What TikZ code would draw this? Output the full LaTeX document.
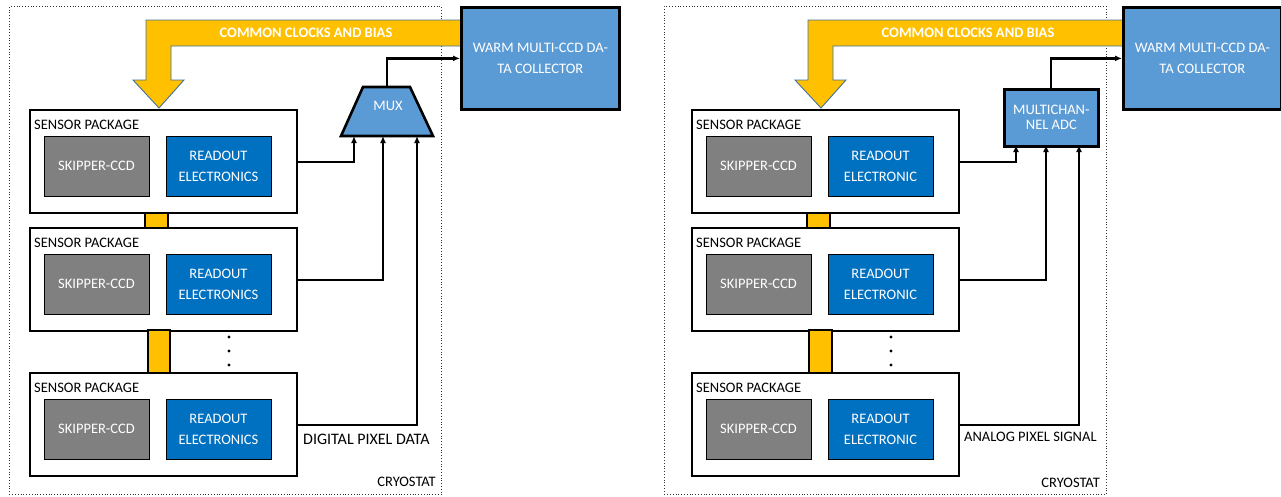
\documentclass[tikz,border=0pt]{standalone}
\usepackage{fontspec}
\setmainfont{Carlito}
\usetikzlibrary{arrows.meta}

\definecolor{busyellow}{HTML}{FFC000}
\definecolor{busedge}{HTML}{41719C}
\definecolor{warmblue}{HTML}{5B9BD5}
\definecolor{roblue}{HTML}{0070C0}
\definecolor{ccdgray}{HTML}{808080}

\tikzset{
  cryo/.style={draw=black!80, dotted, line width=0.8pt, anchor=north west, inner sep=0pt},
  pkg/.style={draw, line width=2.4pt, fill=white, anchor=north west, inner sep=0pt,
              minimum width=267pt, minimum height=103pt},
  pkglabel/.style={anchor=base west, inner sep=0pt, font=\fontsize{14.5}{17}\selectfont},
  ccd/.style={draw, line width=1pt, fill=ccdgray, text=white, inner sep=0pt,
              minimum width=105pt, minimum height=60pt, font=\fontsize{14.5}{17}\selectfont},
  ro/.style={ccd, fill=roblue, align=center, font=\fontsize{14.5}{21}\selectfont},
  warm/.style={draw, line width=2.8pt, fill=warmblue, text=white, align=center,
               inner sep=0pt, anchor=north west, font=\fontsize{14.5}{21}\selectfont},
  bus/.style={draw=busedge, line width=0.9pt, fill=busyellow},
  buslabel/.style={text=white, inner sep=0pt, font=\fontsize{14.5}{17}\selectfont\bfseries},
  link/.style={draw, line width=2.2pt, fill=busyellow, anchor=north west, inner sep=0pt},
  sig/.style={line width=2.3pt, -{Latex[length=7pt,width=6pt]}},
  note/.style={inner sep=0pt, font=\fontsize{14.5}{17}\selectfont}
}

% one sensor package: name, left x, top y, readout text
\newcommand{\sensorpkg}[4]{%
  \node[pkg] (#1) at (#2,#3) {};
  \node[pkglabel] (#1-lbl) at (#2+5,#3+20) {SENSOR PACKAGE};
  \node[ccd] (#1-ccd) at (#2+67.5,#3+57) {SKIPPER-CCD};
  \node[ro] (#1-ro) at (#2+189.5,#3+57) {#4};
}

\begin{document}
\begin{tikzpicture}[x=1pt,y=-1pt]
\useasboundingbox (0,0) rectangle (1281,496);

% ---------------- digital readout (left) ----------------
\node[cryo, minimum width=432pt, minimum height=488pt] (cryoL) at (9,6) {};
\node[note, anchor=base east] (cryoL-lbl) at (436,486) {CRYOSTAT};

\draw[bus] (470,20) -- (146,20) -- (146,80) -- (133,80) -- (159,108)
  -- (184,80) -- (171,80) -- (171,46) -- (470,46) -- cycle;
\node[buslabel] (busL) at (306,33) {COMMON CLOCKS AND BIAS};

\node[warm, minimum width=158pt, minimum height=102pt] (warmL) at (460,6)
  {WARM MULTI-CCD DA-\\TA COLLECTOR};

\sensorpkg{pL1}{29}{109}{READOUT\\ELECTRONICS}
\sensorpkg{pL2}{29}{227}{READOUT\\ELECTRONICS}
\sensorpkg{pL3}{29}{372}{READOUT\\ELECTRONICS}

\node[link, minimum width=23pt, minimum height=15pt] (lnkL1) at (144,212) {};
\node[link, minimum width=22pt, minimum height=43pt] (lnkL2) at (147,329) {};

\fill (229,337) circle (1.7pt) (229,351) circle (1.7pt) (229,365) circle (1.7pt);

% multiplexer
\draw[line width=2.6pt, fill=warmblue] (363,87) -- (410,87) -- (433,136) -- (341,136) -- cycle;
\node[note, text=white] (muxL) at (388,106) {MUX};
\coordinate (muxL-in1) at (354,136);
\coordinate (muxL-in2) at (383,136);
\coordinate (muxL-in3) at (417,136);
\coordinate (muxL-out) at (387,87);

\draw[sig] (pL1.east) -| (muxL-in1);
\draw[sig] (pL2.east) -| (muxL-in2);
\draw[sig] (pL3.east) -| (muxL-in3);
\draw[sig] (muxL-out) |- (warmL.west);
\node[inner sep=0pt, anchor=base west, font=\fontsize{16}{19}\selectfont] (dataL) at (303,444)
  {DIGITAL PIXEL DATA};

% ---------------- analog readout (right) ----------------
\node[cryo, minimum width=442pt, minimum height=488pt] (cryoR) at (664,6) {};
\node[note, anchor=base east] (cryoR-lbl) at (1100,487) {CRYOSTAT};

\draw[bus] (1132,20) -- (808,20) -- (808,80) -- (795,80) -- (821,108)
  -- (846,80) -- (833,80) -- (833,46) -- (1132,46) -- cycle;
\node[buslabel] (busR) at (968,33) {COMMON CLOCKS AND BIAS};

\node[warm, minimum width=158pt, minimum height=102pt] (warmR) at (1122,6)
  {WARM MULTI-CCD DA-\\TA COLLECTOR};

\sensorpkg{pR1}{691}{109}{READOUT\\ELECTRONIC}
\sensorpkg{pR2}{691}{227}{READOUT\\ELECTRONIC}
\sensorpkg{pR3}{691}{372}{READOUT\\ELECTRONIC}

\node[link, minimum width=23pt, minimum height=15pt] (lnkR1) at (806,212) {};
\node[link, minimum width=23pt, minimum height=43pt] (lnkR2) at (808,329) {};

\fill (891,337) circle (1.7pt) (891,351) circle (1.7pt) (891,365) circle (1.7pt);

% multichannel converter
\node[warm, line width=2.6pt, minimum width=94pt, minimum height=57pt,
      font=\fontsize{14.5}{15}\selectfont] (adc) at (1003,88) {MULTICHAN-\\NEL ADC};
\coordinate (adc-in1) at (1016,145);
\coordinate (adc-in2) at (1046,145);
\coordinate (adc-in3) at (1079,145);

\draw[sig] (pR1.east) -| (adc-in1);
\draw[sig] (pR2.east) -| (adc-in2);
\draw[sig] (pR3.east) -| (adc-in3);
\draw[sig] (adc.north) |- (warmR.west);
\node[note, anchor=base west] (dataR) at (964,441) {ANALOG PIXEL SIGNAL};
\end{tikzpicture}
\end{document}
